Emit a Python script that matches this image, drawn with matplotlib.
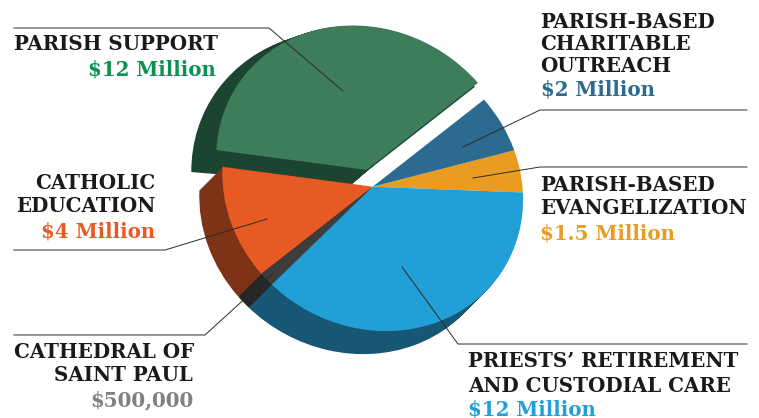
import matplotlib
matplotlib.use("Agg")
import matplotlib.pyplot as plt
from matplotlib.transforms import Affine2D
import numpy as np

W, H = 759, 418
categories = ["Parish-Based Evangelization", "Parish-Based Charitable Outreach", "Parish Support",
              "Catholic Education", "Cathedral of Saint Paul", "Priests' Retirement and Custodial Care"]
values = [1.5, 2, 12, 4, 0.5, 12]
top_colors = ["#e99c20", "#2c6a8f", "#3e7d59", "#e85a23", "#3d3d3d", "#229fd6"]
side_colors = ["none", "none", "none", "#7e3216", "#262626", "#175674"]
green_side = ["none", "none", "#1b4530", "none", "none", "none"]
top_only = ["#e99c20", "#2c6a8f", "none", "#e85a23", "#3d3d3d", "#229fd6"]
green_only = ["none", "none", "#3e7d59", "none", "none", "none"]
explode = [0, 0, 0.12, 0, 0, 0]
START = 0.3

CX, CY, RX, RY = 372.7, 186.7, 151.0, 145.0
# the pie is seen at an angle: squeezed along one diagonal
SQUASH = np.array([[0.995, -0.045, 0.0], [-0.045, 0.995, 0.0], [0.0, 0.0, 1.0]])

fig = plt.figure(figsize=(W / 100, H / 100), dpi=100, facecolor="white")
ax = fig.add_axes([0, 0, 1, 1])


def draw(colors, dx=0.0, dy=0.0, radius=1.0, rot=0.0):
    """dx, dy: page pixel shift of the pie."""
    wedges, _ = ax.pie(values, colors=colors, explode=explode, startangle=START + rot,
                       radius=radius, wedgeprops={"linewidth": 0}, normalize=True)
    tr = Affine2D(SQUASH).translate(dx / RX, -dy / RY) + ax.transData
    for w, c in zip(wedges, colors):
        w.set_transform(tr)
        if c == "none":
            w.set_visible(False)


# green exploded slice: extrusion, then top
steps = 16
for i in range(steps, 0, -1):
    t = i / steps
    draw(green_side, -15 * t, 15 * t, 1 + 0.06 * t, 3.0 * t)
draw(green_side, -3, 4)
draw(green_only)

# other slices: extrusion, then top
for k in range(23, 0, -1):
    draw(side_colors, -k, k)
draw(top_only)

ax.set_aspect("auto")
ax.set_xlim((0 - CX) / RX, (W - CX) / RX)
ax.set_ylim((CY - H) / RY, CY / RY)
ax.set_axis_off()

# overlay in page pixels for labels and leaders
ov = fig.add_axes([0, 0, 1, 1], facecolor="none")
ov.set_xlim(0, W)
ov.set_ylim(H, 0)
ov.set_axis_off()

leaders = [
    ([14, 269, 343], [28, 28, 91]),
    ([747, 540, 463], [110, 110, 147]),
    ([747, 540, 473], [167, 167, 178]),
    ([14, 165, 267], [250, 250, 219]),
    ([14, 205, 273], [335, 335, 273]),
    ([747, 458, 402], [344, 344, 267]),
]
for xs, ys in leaders:
    ov.plot(xs, ys, color="#2a2a2a", lw=0.7, solid_joinstyle="miter")

BLACK = "#1a1a1a"
labels = [
    ("PARISH SUPPORT", 14, 50, "left", BLACK),
    ("$12 Million", 216, 75, "right", "#0b9150"),
    ("PARISH-BASED", 540, 28, "left", BLACK),
    ("CHARITABLE", 540, 50, "left", BLACK),
    ("OUTREACH", 540, 72, "left", BLACK),
    ("$2 Million", 541, 96, "left", "#2c6a8f"),
    ("CATHOLIC", 155, 189, "right", BLACK),
    ("EDUCATION", 155, 212, "right", BLACK),
    ("$4 Million", 155, 238, "right", "#e85a23"),
    ("PARISH-BASED", 540, 191, "left", BLACK),
    ("EVANGELIZATION", 540, 214, "left", BLACK),
    ("$1.5 Million", 540, 239, "left", "#e99c20"),
    ("CATHEDRAL OF", 14, 358, "left", BLACK),
    ("SAINT PAUL", 193, 381, "right", BLACK),
    ("$500,000", 193, 406, "right", "#808080"),
    ("PRIESTS\u2019 RETIREMENT", 468, 367, "left", BLACK),
    ("AND CUSTODIAL CARE", 468, 392, "left", BLACK),
    ("$12 Million", 468, 415, "left", "#229fd6"),
]
for s, x, y, ha, c in labels:
    ov.text(x, y, s, ha=ha, va="baseline", color=c, family="DejaVu Serif",
            weight="bold", fontsize=14.3)

fig.savefig("out.png", dpi=100, facecolor="white")
